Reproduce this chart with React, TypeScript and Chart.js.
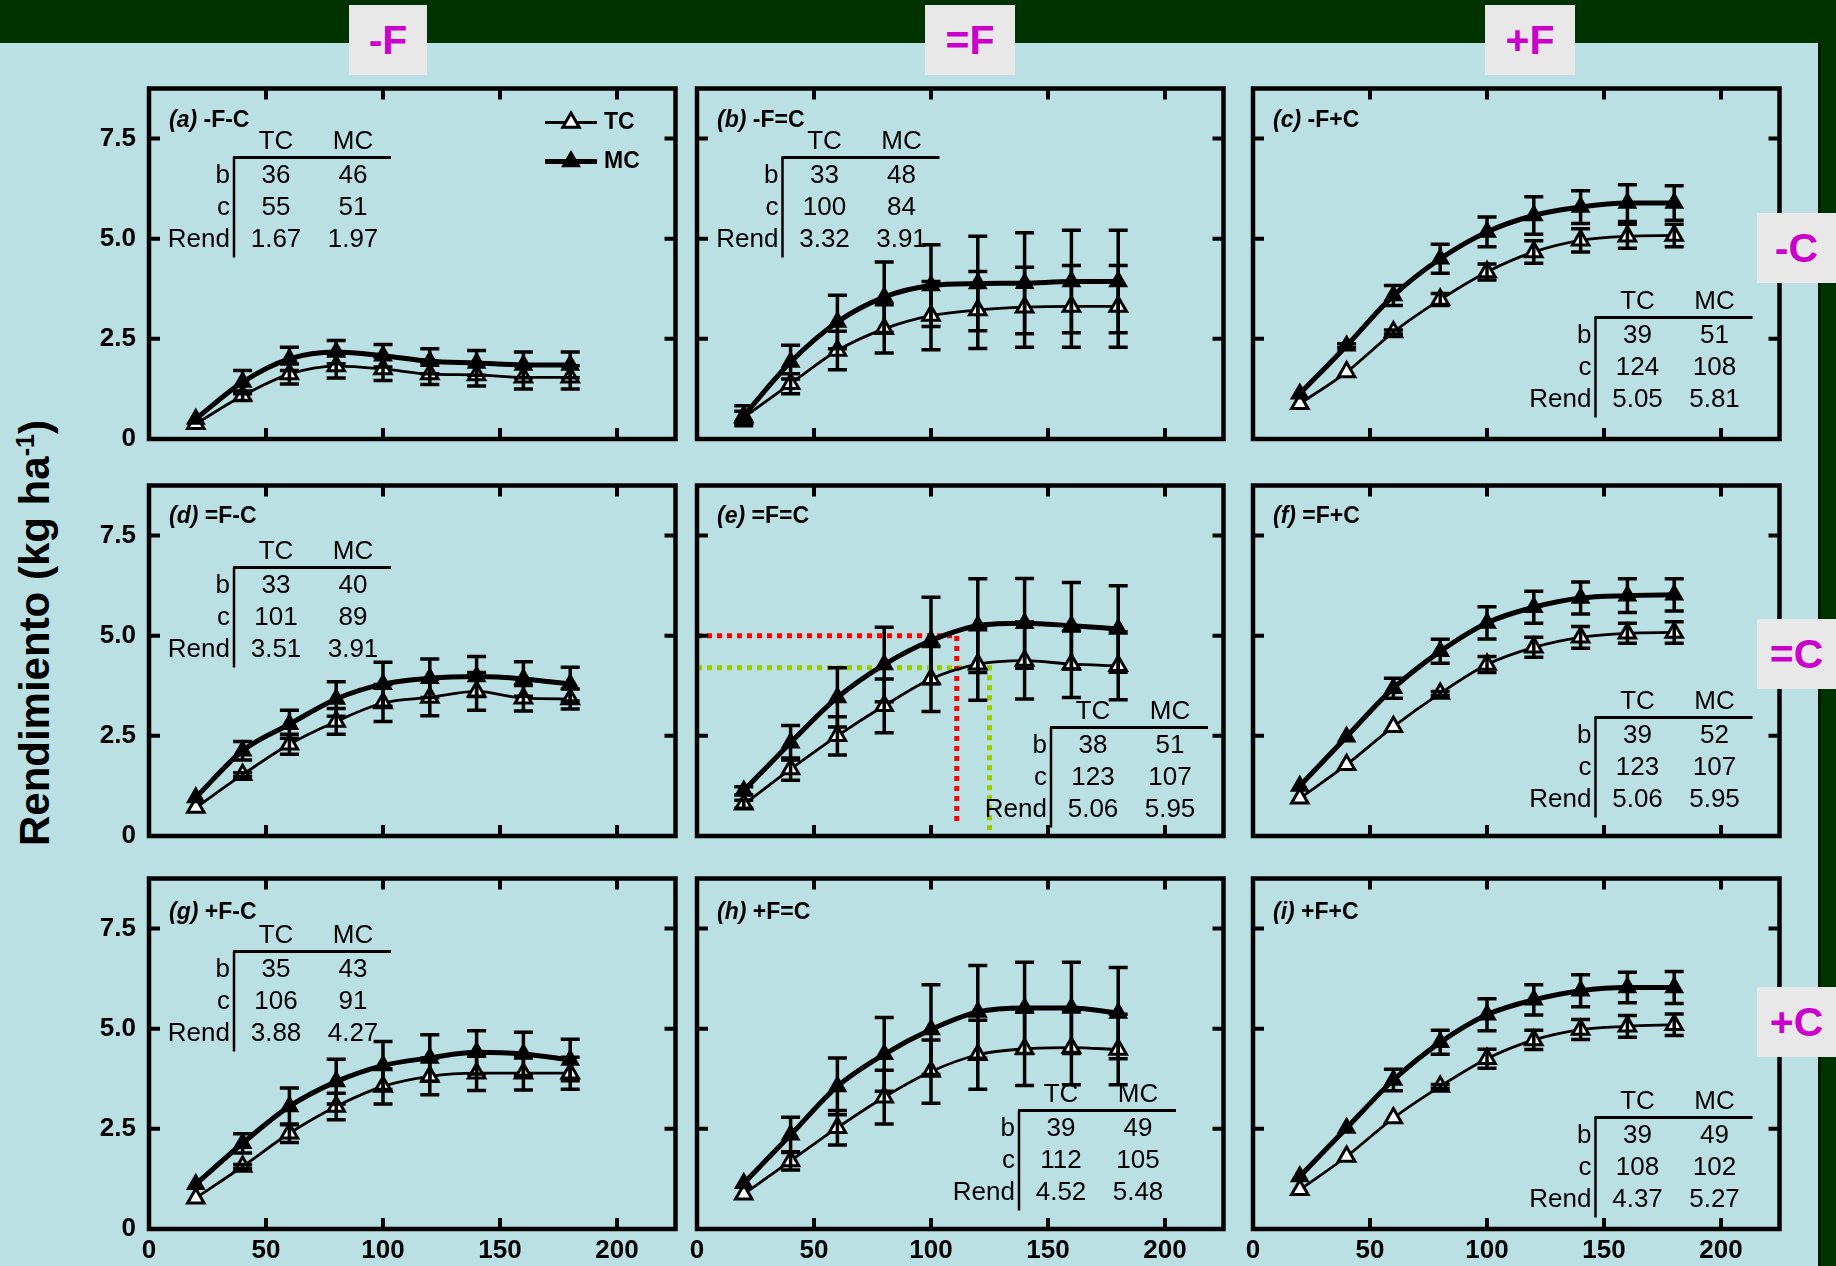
import React, { useEffect, useRef } from 'react';
import { Chart, registerables } from 'chart.js';

Chart.register(...registerables);

const FONT = 'Arial, "Liberation Sans", Helvetica, sans-serif';

// ---------- DATA ----------
const N_LEVELS = [20, 40, 60, 80, 100, 120, 140, 160, 180];
const X_TICKS = [0, 50, 100, 150, 200];
const Y_TICK_LABELS = ['0', '2.5', '5.0', '7.5'];

const PANEL_LETTERS = ['a', 'b', 'c', 'd', 'e', 'f', 'g', 'h', 'i'];
const PANEL_TREATMENTS = ['-F-C', '-F=C', '-F+C', '=F-C', '=F=C', '=F+C', '+F-C', '+F=C', '+F+C'];
const SERIES_NAMES = ['TC', 'MC'];
const F_LABELS = ['-F', '=F', '+F'];
const C_LABELS = ['-C', '=C', '+C'];

// panel (a) -F-C
const TC_A = [0.38, 1.08, 1.62, 1.82, 1.75, 1.62, 1.6, 1.54, 1.54];
const TC_A_ERR = [0, 0.12, 0.25, 0.3, 0.29, 0.26, 0.28, 0.29, 0.29];
const MC_A = [0.5, 1.42, 2.0, 2.17, 2.08, 1.94, 1.9, 1.85, 1.85];
const MC_A_ERR = [0, 0.29, 0.29, 0.29, 0.28, 0.31, 0.31, 0.32, 0.32];
// panel (b) -F=C
const TC_B = [0.54, 1.38, 2.21, 2.75, 3.08, 3.22, 3.29, 3.31, 3.31];
const TC_B_ERR = [0.15, 0.25, 0.48, 0.6, 0.85, 0.96, 1.0, 1.02, 1.02];
const MC_B = [0.58, 1.92, 2.92, 3.54, 3.83, 3.88, 3.89, 3.93, 3.93];
const MC_B_ERR = [0.25, 0.42, 0.67, 0.88, 1.02, 1.18, 1.26, 1.28, 1.28];
// panel (c) -F+C
const TC_C = [0.88, 1.67, 2.67, 3.48, 4.17, 4.67, 4.96, 5.06, 5.08];
const TC_C_ERR = [0, 0, 0.05, 0.15, 0.2, 0.28, 0.29, 0.3, 0.28];
const MC_C = [1.13, 2.33, 3.58, 4.5, 5.17, 5.58, 5.79, 5.89, 5.89];
const MC_C_ERR = [0, 0.05, 0.25, 0.36, 0.37, 0.47, 0.41, 0.46, 0.43];
// panel (d) =F-C
const TC_D = [0.71, 1.53, 2.29, 2.86, 3.32, 3.46, 3.61, 3.44, 3.42];
const TC_D_ERR = [0, 0.05, 0.25, 0.32, 0.46, 0.46, 0.47, 0.32, 0.25];
const MC_D = [0.96, 2.13, 2.79, 3.42, 3.79, 3.94, 3.98, 3.92, 3.79];
const MC_D_ERR = [0, 0.23, 0.35, 0.43, 0.55, 0.48, 0.5, 0.43, 0.42];
// panel (e) =F=C
const TC_E = [0.79, 1.67, 2.5, 3.25, 3.92, 4.29, 4.38, 4.29, 4.25];
const TC_E_ERR = [0.1, 0.28, 0.48, 0.67, 0.81, 0.9, 0.96, 0.83, 0.85];
const MC_E = [1.13, 2.33, 3.46, 4.28, 4.88, 5.25, 5.31, 5.25, 5.17];
const MC_E_ERR = [0.1, 0.43, 0.74, 0.93, 1.08, 1.17, 1.12, 1.08, 1.08];
// panel (f) =F+C
const TC_F = [0.94, 1.78, 2.73, 3.56, 4.28, 4.71, 4.96, 5.06, 5.08];
const TC_F_ERR = [0, 0, 0, 0.05, 0.2, 0.25, 0.27, 0.25, 0.27];
const MC_F = [1.25, 2.48, 3.69, 4.61, 5.32, 5.71, 5.94, 6.0, 6.02];
const MC_F_ERR = [0, 0, 0.25, 0.3, 0.4, 0.4, 0.4, 0.42, 0.4];
// panel (g) +F-C
const TC_G = [0.77, 1.56, 2.39, 3.06, 3.56, 3.81, 3.89, 3.89, 3.89];
const TC_G_ERR = [0, 0.05, 0.23, 0.33, 0.44, 0.46, 0.43, 0.42, 0.4];
const MC_G = [1.12, 2.14, 3.06, 3.68, 4.08, 4.27, 4.41, 4.37, 4.22];
const MC_G_ERR = [0, 0.24, 0.46, 0.56, 0.6, 0.58, 0.54, 0.54, 0.52];
// panel (h) +F=C
const TC_H = [0.87, 1.7, 2.53, 3.29, 3.93, 4.35, 4.5, 4.53, 4.48];
const TC_H_ERR = [0, 0.23, 0.43, 0.67, 0.79, 0.86, 0.92, 0.93, 0.88];
const MC_H = [1.14, 2.35, 3.56, 4.36, 4.98, 5.42, 5.52, 5.52, 5.39];
const MC_H_ERR = [0, 0.44, 0.71, 0.92, 1.12, 1.16, 1.14, 1.14, 1.14];
// panel (i) +F+C
const TC_I = [0.98, 1.81, 2.77, 3.56, 4.25, 4.72, 4.98, 5.06, 5.1];
const TC_I_ERR = [0, 0, 0, 0.05, 0.24, 0.24, 0.25, 0.27, 0.27];
const MC_I = [1.31, 2.52, 3.72, 4.66, 5.35, 5.72, 5.95, 6.03, 6.03];
const MC_I_ERR = [0, 0, 0.27, 0.3, 0.4, 0.38, 0.4, 0.38, 0.4];

// fitted parameters tables
const PARAM_NAMES = ['b', 'c', 'Rend'];
const B_TC = ['36', '33', '39', '33', '38', '39', '35', '39', '39'];
const B_MC = ['46', '48', '51', '40', '51', '52', '43', '49', '49'];
const C_TC = ['55', '100', '124', '101', '123', '123', '106', '112', '108'];
const C_MC = ['51', '84', '108', '89', '107', '107', '91', '105', '102'];
const REND_TC = ['1.67', '3.32', '5.05', '3.51', '5.06', '5.06', '3.88', '4.52', '4.37'];
const REND_MC = ['1.97', '3.91', '5.81', '3.91', '5.95', '5.95', '4.27', '5.48', '5.27'];

// guide lines in panel (e)
const RED_GUIDE_X = [0, 111, 111];
const RED_GUIDE_Y = [5.0, 5.0, 0.35];
const GREEN_GUIDE_X = [0, 125, 125];
const GREEN_GUIDE_Y = [4.2, 4.2, 0.15];

const TC_ALL = [TC_A, TC_B, TC_C, TC_D, TC_E, TC_F, TC_G, TC_H, TC_I];
const TC_ERR_ALL = [TC_A_ERR, TC_B_ERR, TC_C_ERR, TC_D_ERR, TC_E_ERR, TC_F_ERR, TC_G_ERR, TC_H_ERR, TC_I_ERR];
const MC_ALL = [MC_A, MC_B, MC_C, MC_D, MC_E, MC_F, MC_G, MC_H, MC_I];
const MC_ERR_ALL = [MC_A_ERR, MC_B_ERR, MC_C_ERR, MC_D_ERR, MC_E_ERR, MC_F_ERR, MC_G_ERR, MC_H_ERR, MC_I_ERR];

// ---------- LAYOUT ----------
const COL_LEFT = [149, 697, 1253];
const ROW_TOP = [88, 485, 878];
const PLOT_W = 527;
const PLOT_H = 351;
const AXIS_W = 60;
const AXIS_H = 44;
const PAD_T = 12;
const PAD_R = 12;
const CW = AXIS_W + PLOT_W + PAD_R;
const CH = PAD_T + PLOT_H + AXIS_H;
const MARKER_R = 9.5;
// table anchor (corner of the table's cross), relative to plot frame
const TABLE_POS = [
  [85, 69], [85.5, 69], [342.5, 229],
  [85, 82], [354, 242], [342.5, 232],
  [85, 73], [322, 232], [342.5, 239],
];
const TITLE_DY = [32, 31, 34];

function triangle(ctx: CanvasRenderingContext2D, x: number, y: number, r: number) {
  ctx.beginPath();
  let a = 0;
  ctx.moveTo(x + Math.sin(a) * r, y - Math.cos(a) * r);
  a += (2 * Math.PI) / 3;
  ctx.lineTo(x + Math.sin(a) * r, y - Math.cos(a) * r);
  a += (2 * Math.PI) / 3;
  ctx.lineTo(x + Math.sin(a) * r, y - Math.cos(a) * r);
  ctx.closePath();
}

function makeConfig(idx: number): any {
  const r = Math.floor(idx / 3);
  const c = idx % 3;
  const tc = TC_ALL[idx];
  const mc = MC_ALL[idx];
  const tcErr = TC_ERR_ALL[idx];
  const mcErr = MC_ERR_ALL[idx];

  const datasets: any[] = [
    {
      label: SERIES_NAMES[1],
      data: N_LEVELS.map((x, i) => ({ x, y: mc[i] })),
      borderColor: '#000',
      borderWidth: 5,
      pointStyle: 'triangle',
      pointRadius: MARKER_R,
      pointBackgroundColor: '#000',
      pointBorderColor: '#000',
      pointBorderWidth: 2,
      cubicInterpolationMode: 'monotone',
      fill: false,
      order: 0,
    },
    {
      label: SERIES_NAMES[0],
      data: N_LEVELS.map((x, i) => ({ x, y: tc[i] })),
      borderColor: '#000',
      borderWidth: 2.8,
      pointStyle: 'triangle',
      pointRadius: MARKER_R,
      pointBackgroundColor: '#fff',
      pointBorderColor: '#000',
      pointBorderWidth: 3,
      cubicInterpolationMode: 'monotone',
      fill: false,
      order: 1,
    },
  ];
  if (idx === 4) {
    datasets.push({
      label: 'guide-red',
      data: RED_GUIDE_X.map((x, i) => ({ x, y: RED_GUIDE_Y[i] })),
      borderColor: '#ff0000',
      borderWidth: 5,
      borderDash: [5, 5],
      borderCapStyle: 'butt',
      pointRadius: 0,
      tension: 0,
      fill: false,
      order: 2,
    });
    datasets.push({
      label: 'guide-green',
      data: GREEN_GUIDE_X.map((x, i) => ({ x, y: GREEN_GUIDE_Y[i] })),
      borderColor: '#99cc00',
      borderWidth: 5,
      borderDash: [5, 5],
      borderCapStyle: 'butt',
      pointRadius: 0,
      tension: 0,
      fill: false,
      order: 3,
    });
  }

  const deco = {
    id: 'deco' + idx,
    afterDatasetsDraw(chart: any) {
      const ctx: CanvasRenderingContext2D = chart.ctx;
      const { left, top, right, bottom } = chart.chartArea;
      const xs = chart.scales.x;
      const ys = chart.scales.y;
      ctx.save();
      ctx.strokeStyle = '#000';
      ctx.fillStyle = '#000';
      ctx.lineCap = 'butt';

      // error bars
      const series: [number[], number[]][] = [[tc, tcErr], [mc, mcErr]];
      ctx.lineWidth = 3.5;
      series.forEach(([vals, errs]) => {
        vals.forEach((v, i) => {
          const e = errs[i];
          if (!e) return;
          const px = xs.getPixelForValue(N_LEVELS[i]);
          const y1 = ys.getPixelForValue(v + e);
          const y2 = ys.getPixelForValue(v - e);
          ctx.beginPath();
          ctx.moveTo(px, y1);
          ctx.lineTo(px, y2);
          ctx.moveTo(px - 9.5, y1);
          ctx.lineTo(px + 9.5, y1);
          ctx.moveTo(px - 9.5, y2);
          ctx.lineTo(px + 9.5, y2);
          ctx.stroke();
        });
      });

      // frame
      ctx.lineWidth = 4.5;
      ctx.strokeRect(left, top, right - left, bottom - top);
      // inward ticks
      ctx.lineWidth = 4;
      ctx.beginPath();
      xs.ticks.forEach((t: any) => {
        if (t.value <= 0) return;
        const px = xs.getPixelForValue(t.value);
        ctx.moveTo(px, top);
        ctx.lineTo(px, top + 11);
        ctx.moveTo(px, bottom);
        ctx.lineTo(px, bottom - 11);
      });
      ys.ticks.forEach((t: any) => {
        if (t.value <= 0) return;
        const py = ys.getPixelForValue(t.value);
        ctx.moveTo(left, py);
        ctx.lineTo(left + 11, py);
        ctx.moveTo(right, py);
        ctx.lineTo(right - 11, py);
      });
      ctx.stroke();

      // panel title
      ctx.textBaseline = 'middle';
      ctx.textAlign = 'left';
      const ty = top + TITLE_DY[r];
      const tx = left + 20;
      ctx.font = `italic bold 23px ${FONT}`;
      const lbl = `(${PANEL_LETTERS[idx]})`;
      ctx.fillText(lbl, tx, ty);
      const w = ctx.measureText(lbl).width;
      ctx.font = `bold 23px ${FONT}`;
      ctx.fillText(' ' + PANEL_TREATMENTS[idx], tx + w, ty);

      // parameter table
      const [dx, dy] = TABLE_POS[idx];
      const vx = left + dx;
      const hy = top + dy;
      const colTC = vx + 42;
      const colMC = vx + 119;
      ctx.lineWidth = 3;
      ctx.beginPath();
      ctx.moveTo(vx - 1, hy);
      ctx.lineTo(vx + 157, hy);
      ctx.stroke();
      ctx.lineWidth = 2.5;
      ctx.beginPath();
      ctx.moveTo(vx, hy);
      ctx.lineTo(vx, hy + 100);
      ctx.stroke();
      ctx.font = `26px ${FONT}`;
      ctx.textAlign = 'center';
      ctx.fillText(SERIES_NAMES[0], colTC, hy - 16);
      ctx.fillText(SERIES_NAMES[1], colMC, hy - 16);
      const tcVals = [B_TC[idx], C_TC[idx], REND_TC[idx]];
      const mcVals = [B_MC[idx], C_MC[idx], REND_MC[idx]];
      const rowY = [hy + 18, hy + 50, hy + 82];
      PARAM_NAMES.forEach((p, k) => {
        ctx.textAlign = 'right';
        ctx.fillText(p, vx - 4, rowY[k]);
        ctx.textAlign = 'center';
        ctx.fillText(tcVals[k], colTC, rowY[k]);
        ctx.fillText(mcVals[k], colMC, rowY[k]);
      });

      // legend (panel a only)
      if (idx === 0) {
        const lx0 = left + 396;
        const lx1 = left + 448;
        const lxm = left + 422;
        const ly = [top + 34, top + 73];
        // TC
        ctx.lineWidth = 2.8;
        ctx.beginPath();
        ctx.moveTo(lx0, ly[0]);
        ctx.lineTo(lx1, ly[0]);
        ctx.stroke();
        ctx.lineWidth = 3;
        triangle(ctx, lxm, ly[0], MARKER_R);
        ctx.fillStyle = '#fff';
        ctx.fill();
        ctx.stroke();
        // MC
        ctx.fillStyle = '#000';
        ctx.lineWidth = 5;
        ctx.beginPath();
        ctx.moveTo(lx0, ly[1]);
        ctx.lineTo(lx1, ly[1]);
        ctx.stroke();
        ctx.lineWidth = 2;
        triangle(ctx, lxm, ly[1], MARKER_R);
        ctx.fill();
        ctx.stroke();
        ctx.font = `bold 23px ${FONT}`;
        ctx.textAlign = 'left';
        ctx.fillText(SERIES_NAMES[0], left + 455, ly[0]);
        ctx.fillText(SERIES_NAMES[1], left + 455, ly[1]);
      }
      ctx.restore();
    },
  };

  return {
    type: 'line',
    data: { datasets },
    options: {
      responsive: false,
      animation: false,
      devicePixelRatio: 1,
      events: [],
      layout: { padding: { left: 0, top: PAD_T, right: PAD_R, bottom: 0 } },
      plugins: { legend: { display: false }, tooltip: { enabled: false } },
      scales: {
        x: {
          type: 'linear',
          min: 0,
          max: 225,
          grid: { display: false, drawTicks: false },
          border: { display: false },
          ticks: {
            display: r === 2,
            stepSize: 50,
            includeBounds: false,
            autoSkip: false,
            maxRotation: 0,
            padding: 6,
            color: '#000',
            font: { family: FONT, size: 26, weight: 'bold' },
            callback: (v: number) => (X_TICKS.includes(v) ? String(v) : ''),
          },
          afterFit: (s: any) => {
            s.height = AXIS_H;
            s.paddingLeft = 0;
            s.paddingRight = 0;
          },
        },
        y: {
          type: 'linear',
          min: 0,
          max: 8.75,
          grid: { display: false, drawTicks: false },
          border: { display: false },
          ticks: {
            display: c === 0,
            stepSize: 2.5,
            includeBounds: false,
            padding: 13,
            color: '#000',
            font: { family: FONT, size: 26, weight: 'bold' },
            callback: (v: number) => Y_TICK_LABELS[Math.round(v / 2.5)] ?? '',
          },
          afterFit: (s: any) => {
            s.width = AXIS_W;
            s.paddingTop = 0;
            s.paddingBottom = 0;
          },
        },
      },
    },
    plugins: [deco],
  };
}

function Panel({ idx }: { idx: number }) {
  const ref = useRef<HTMLCanvasElement>(null);
  useEffect(() => {
    const chart = new Chart(ref.current as HTMLCanvasElement, makeConfig(idx));
    return () => chart.destroy();
  }, [idx]);
  const r = Math.floor(idx / 3);
  const c = idx % 3;
  return (
    <canvas
      ref={ref}
      width={CW}
      height={CH}
      style={{ position: 'absolute', left: COL_LEFT[c] - AXIS_W, top: ROW_TOP[r] - PAD_T, width: CW, height: CH }}
    />
  );
}

const F_BOX_LEFT = [349, 925, 1485];
const F_BOX_W = [78, 90, 90];
const C_BOX_TOP = [213, 619, 987];

export default function App() {
  useEffect(() => {
    document.body.style.margin = '0';
  }, []);
  const labelStyle: React.CSSProperties = {
    position: 'absolute',
    background: '#e8e8e8',
    color: '#cc00cc',
    font: `bold 41px ${FONT}`,
    display: 'flex',
    alignItems: 'center',
    justifyContent: 'center',
  };
  return (
    <div
      style={{
        position: 'absolute',
        left: 0,
        top: 0,
        width: 1836,
        height: 1266,
        background: '#003300',
        overflow: 'hidden',
        fontFamily: FONT,
      }}
    >
      <div
        style={{
          position: 'absolute',
          left: 0,
          top: 43,
          width: 1821,
          height: 1223,
          background: '#bae0e4',
          borderRight: '3px solid #001a00',
          boxSizing: 'border-box',
        }}
      />
      {PANEL_LETTERS.map((_, i) => (
        <Panel key={i} idx={i} />
      ))}
      {F_LABELS.map((t, i) => (
        <div key={t} style={{ ...labelStyle, left: F_BOX_LEFT[i], top: 5, width: F_BOX_W[i], height: 70 }}>
          {t}
        </div>
      ))}
      {C_LABELS.map((t, i) => (
        <div key={t} style={{ ...labelStyle, left: 1757, top: C_BOX_TOP[i], width: 79, height: 70 }}>
          {t}
        </div>
      ))}
      <div
        style={{
          position: 'absolute',
          left: 36 - 280,
          top: 633 - 25,
          width: 560,
          height: 50,
          lineHeight: '50px',
          transform: 'rotate(-90deg)',
          textAlign: 'center',
          font: `bold 42px ${FONT}`,
          color: '#000',
          whiteSpace: 'nowrap',
        }}
      >
        Rendimiento (kg ha<sup style={{ fontSize: '60%', lineHeight: 0 }}>-1</sup>)
      </div>
    </div>
  );
}
